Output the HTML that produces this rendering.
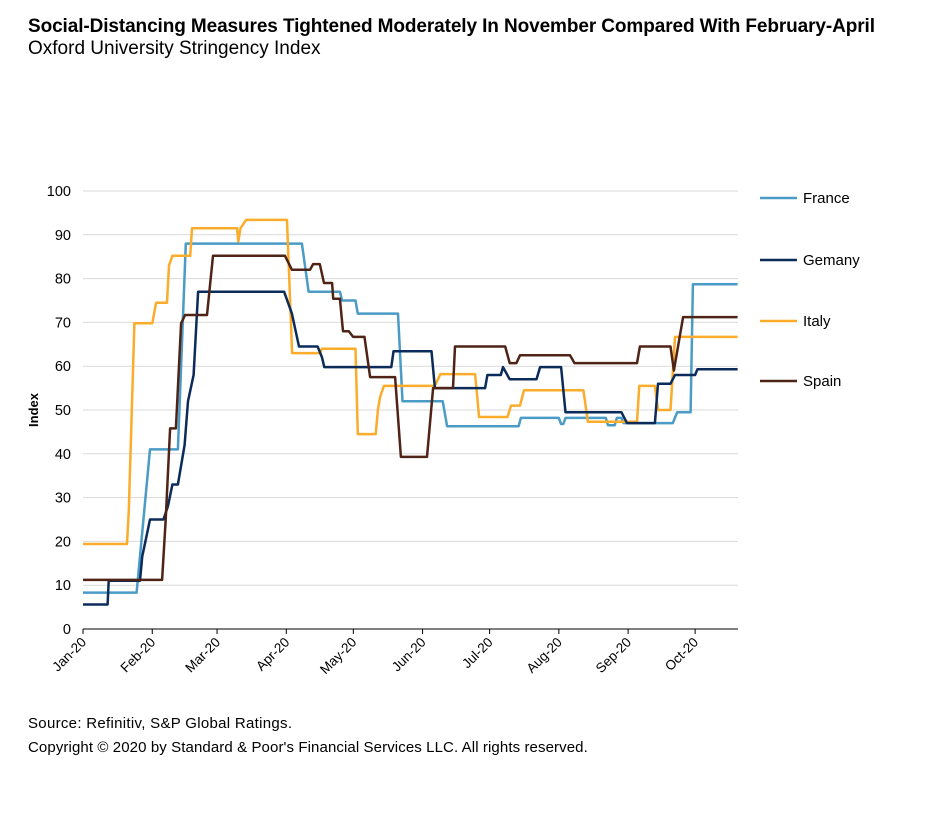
<!DOCTYPE html>
<html><head><meta charset="utf-8">
<style>
body{margin:0;background:#fff;font-family:"Liberation Sans",Arial,sans-serif;}
#wrap{position:relative;width:936px;height:814px;overflow:hidden;}
.t{position:absolute;left:28px;color:#000;white-space:nowrap;}
</style></head>
<body>
<div id="wrap">
<div class="t" style="top:16px;font-size:19px;font-weight:bold;letter-spacing:-0.1px;">Social-Distancing Measures Tightened Moderately In November Compared With February-April</div>
<div class="t" style="top:38px;font-size:19px;">Oxford University Stringency Index</div>
<div class="t" style="top:715px;font-size:15px;letter-spacing:0.3px;">Source: Refinitiv, S&amp;P Global Ratings.</div>
<div class="t" style="top:739px;font-size:15px;letter-spacing:0.1px;">Copyright © 2020 by Standard &amp; Poor's Financial Services LLC. All rights reserved.</div>
<svg id="chart" width="936" height="814" style="position:absolute;left:0;top:0"></svg>
</div>
<script>
const yTicks=[0,10,20,30,40,50,60,70,80,90,100];
const xTickLabels=["Jan-20","Feb-20","Mar-20","Apr-20","May-20","Jun-20","Jul-20","Aug-20","Sep-20","Oct-20"];
const xTickDays=[0,31,60,91,121,152,182,213,244,274];
const seriesNames=["France","Gemany","Italy","Spain"];
const seriesColors=["#4a9bc6","#0b2b5a","#fbac2a","#4f2417"];
const franceDays=[0,24,30,42.5,46,98,101,115,116,122,123,141,143,161,163,195,196,213,214,215,216,234,235,238,239,241,242,245,246,264,266,272,273,293];
const franceVals=[8.3,8.3,41,41,88,88,77,77,75,75,72,72,52,52,46.3,46.3,48.2,48.2,46.8,46.8,48.2,48.2,46.5,46.5,48.2,48.2,47,47,47,47,49.5,49.5,78.7,78.7];
const germanyDays=[0,11,11.5,25.5,26.5,30,36,38,40,42.5,45.5,47,49.5,51.5,90,93.5,96.7,105,107,108,138,139,156,157.5,180,181,187,188,191,203,204.6,214,216,241,243.5,256,257.4,263,265,274,275,293];
const germanyVals=[5.6,5.6,11,11,16.5,25,25,28,33,33,42,52,58,77,77,72,64.5,64.5,62,59.8,59.8,63.4,63.4,55,55,58,58,59.8,57,57,59.8,59.8,49.5,49.5,47,47,56,56,58,58,59.3,59.3];
const italyDays=[0,19.7,20.5,23,31,32.7,37.6,38.5,40,48,48.8,69,69.5,70.5,73,91.3,93.6,106,107,122,123,131,132,133,134.7,157.5,160,175.5,177.3,190,191.6,195.6,197.4,224,226,248,249,256,257.4,263,265,293];
const italyVals=[19.4,19.4,27,69.8,69.8,74.5,74.5,83,85.2,85.2,91.5,91.5,88.5,91.5,93.4,93.4,63,63,64,64,44.5,44.5,50,53,55.5,55.5,58.2,58.2,48.4,48.4,51,51,54.5,54.5,47.3,47.3,55.5,55.5,50,50,66.7,66.7];
const spainDays=[0,35.4,37,39,41.6,43.9,45.7,55.5,58.2,90.4,93.5,101.6,103,106,107.9,111.5,112,115,116.4,119,120.9,126,128.5,139.7,142.3,154,156.7,165.6,166.5,189,191,194,195.6,218,220,248,249.3,263,264.5,268.6,293];
const spainVals=[11.2,11.2,25,45.8,45.8,69.8,71.7,71.7,85.2,85.2,82,82,83.3,83.3,79,79,75.4,75.4,68,68,66.7,66.7,57.5,57.5,39.3,39.3,55,55,64.5,64.5,60.7,60.7,62.5,62.5,60.7,60.7,64.5,64.5,59,71.2,71.2];

const NS="http://www.w3.org/2000/svg";
const svg=document.getElementById('chart');
const X0=83,PX=2.234,Y0=629,PY=4.38;
const xs=d=>X0+d*PX, ys=v=>Y0-v*PY;
function mk(tag,attrs){const e=document.createElementNS(NS,tag);for(const k in attrs)e.setAttribute(k,attrs[k]);svg.appendChild(e);return e;}
yTicks.forEach(v=>{
  if(v>0){const g=mk('line',{x1:X0,x2:738,y1:ys(v),y2:ys(v),stroke:'#d9d9d9','stroke-width':1});
  
  }
  const t=mk('text',{x:X0-12,y:ys(v)+5,'text-anchor':'end','font-size':14.5,'font-family':'Liberation Sans, sans-serif'});
  t.textContent=v;
  
  
});
const ax=mk('line',{x1:X0,x2:738,y1:Y0,y2:Y0,stroke:'#000','stroke-width':1});


xTickDays.forEach((d,i)=>{
  const tk=mk('line',{x1:xs(d),x2:xs(d),y1:Y0,y2:Y0+5,stroke:'#000'});
  
  
  const t=mk('text',{x:xs(d)+4,y:Y0+14,'text-anchor':'end','font-size':13.5,'font-family':'Liberation Sans, sans-serif',transform:`rotate(-45 ${xs(d)+4} ${Y0+14})`});
  t.textContent=xTickLabels[i];
  
  
});
const yt=mk('text',{x:38,y:410,'text-anchor':'middle','font-size':13,'font-weight':'bold','font-family':'Liberation Sans, sans-serif',transform:'rotate(-90 38 410)'});
yt.textContent='Index';


const allDays=[franceDays,germanyDays,italyDays,spainDays];
const allVals=[franceVals,germanyVals,italyVals,spainVals];
const order=[0,2,1,3];
order.forEach(i=>{
  const pts=allDays[i].map((d,j)=>xs(d).toFixed(1)+','+ys(allVals[i][j]).toFixed(1)).join(' ');
  const p=mk('polyline',{points:pts,fill:'none',stroke:seriesColors[i],'stroke-width':2.5,'stroke-linejoin':'round'});
  
  
});
const legY=[198,260,321,381];
seriesNames.forEach((n,i)=>{
  const l=mk('line',{x1:760,x2:797,y1:legY[i],y2:legY[i],stroke:seriesColors[i],'stroke-width':2.5});
  
  
  const t=mk('text',{x:803,y:legY[i]+5,'font-size':15,'font-family':'Liberation Sans, sans-serif'});
  t.textContent=n;
  
  
});
</script>
</body></html>
